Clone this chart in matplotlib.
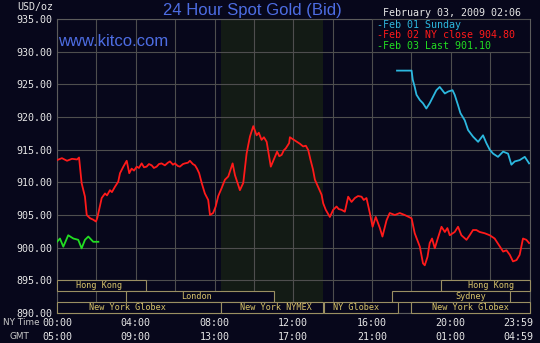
import matplotlib
matplotlib.use('Agg')
import matplotlib.pyplot as plt
import matplotlib.patches as mpatches
import matplotlib.transforms as mtransforms

# --- data (hours since 00:00 NY time, USD/oz) ---
red_t = [0.00, 0.25, 0.51, 0.76, 1.02, 1.12, 1.25, 1.42, 1.51, 1.68, 1.83, 1.98, 2.05, 2.15,
         2.27, 2.44, 2.54, 2.69, 2.79, 2.94, 3.11, 3.20, 3.37, 3.54, 3.67, 3.79, 3.91, 4.05,
         4.16, 4.30, 4.42, 4.55, 4.67, 4.81, 4.92, 5.06, 5.18, 5.31, 5.48, 5.63, 5.74, 5.89,
         5.99, 6.14, 6.24, 6.40, 6.50, 6.65, 6.75, 6.90, 7.01, 7.11, 7.22, 7.35, 7.51, 7.68,
         7.77, 7.93, 8.06, 8.19, 8.36, 8.53, 8.70, 8.92, 9.04, 9.29, 9.46, 9.63, 9.80, 9.97,
         10.14, 10.25, 10.39, 10.51, 10.65, 10.76, 10.86, 11.07, 11.18, 11.29, 11.41, 11.52,
         11.62, 11.79, 11.83, 11.98, 12.17, 12.34, 12.50, 12.64, 12.76, 12.88, 13.00, 13.10,
         13.26, 13.44, 13.52, 13.65, 13.86, 14.03, 14.20, 14.31, 14.45, 14.62, 14.79, 14.96,
         15.13, 15.29, 15.47, 15.58, 15.72, 15.89, 16.03, 16.19, 16.40, 16.53, 16.74, 16.90,
         17.16, 17.41, 17.66, 18.01, 18.17, 18.43, 18.59, 18.68, 18.82, 18.93, 19.05, 19.19,
         19.32, 19.53, 19.70, 19.83, 19.95, 20.20, 20.37, 20.54, 20.80, 20.96, 21.13, 21.30,
         21.47, 21.73, 21.98, 22.23, 22.49, 22.66, 22.83, 23.00, 23.16, 23.34, 23.50, 23.67,
         23.84, 23.98]
red_v = [913.4, 913.7, 913.3, 913.6, 913.5, 913.8, 909.9, 907.8, 905.0, 904.5, 904.3, 904.0, 904.6, 906.0,
         907.6, 908.3, 908.0, 908.8, 908.5, 909.3, 910.1, 911.4, 912.4, 913.3, 911.4, 912.1, 911.8, 912.4,
         912.2, 912.9, 912.3, 912.4, 912.8, 912.6, 912.2, 912.4, 912.8, 912.9, 912.6, 913.0, 913.2, 912.7,
         912.9, 912.5, 912.4, 912.8, 912.9, 913.0, 913.3, 912.8, 912.6, 912.1, 911.4, 909.9, 908.3, 907.3,
         905.0, 905.3, 906.3, 907.9, 909.1, 910.4, 910.9, 912.9, 911.1, 908.8, 909.9, 914.4, 917.0, 918.6,
         917.2, 917.6, 916.5, 916.9, 916.2, 914.2, 912.4, 913.9, 914.7, 914.0, 914.2, 914.9,
         915.2, 916.0, 916.9, 916.6, 916.2, 915.9, 915.5, 915.6, 914.95, 913.4, 912.0, 910.4,
         909.3, 908.1, 906.8, 905.8, 904.7, 905.8, 906.3, 905.9, 905.8, 905.5, 907.8, 907.0,
         907.6, 907.9, 907.8, 907.3, 907.6, 905.3, 903.2, 904.7, 903.0, 901.7, 904.2, 905.3,
         905.0, 905.3, 905.0, 904.5, 902.2, 900.15, 897.6, 897.3, 898.6, 900.7, 901.4, 899.9,
         901.2, 903.2, 902.4, 903.0, 901.9, 902.4, 903.2, 901.9, 901.2, 901.9, 902.7, 902.7,
         902.4, 902.2, 901.9, 901.4, 900.2, 899.4, 899.6, 898.9, 897.9, 898.1, 898.9, 901.4,
         901.2, 900.7]

cyan_t = [17.27, 18.01, 18.07, 18.17, 18.26, 18.43, 18.59, 18.76, 18.93, 19.10, 19.27, 19.44,
          19.70, 19.87, 20.09, 20.20, 20.37, 20.49, 20.71, 20.88, 21.13, 21.39, 21.64, 21.81,
          21.98, 22.15, 22.40, 22.66, 22.91, 23.08, 23.25, 23.50, 23.76, 23.98]
cyan_v = [927.1, 927.1, 925.7, 924.6, 923.4, 922.6, 922.1, 921.3, 922.1, 923.1, 924.1, 924.6,
          923.6, 923.9, 924.1, 923.4, 921.8, 920.6, 919.5, 918.0, 917.0, 916.2, 917.2, 916.0,
          915.0, 914.4, 913.9, 914.7, 914.4, 912.7, 913.2, 913.4, 913.9, 912.9]

green_t = [0.00, 0.15, 0.32, 0.57, 0.83, 1.08, 1.25, 1.42, 1.59, 1.84, 2.10]
green_v = [900.9, 901.4, 900.15, 901.9, 901.4, 901.2, 899.9, 901.2, 901.7, 900.9, 900.9]

tick_hours = [0, 4, 8, 12, 16, 20, 24]
ny_labels = ['00:00', '04:00', '08:00', '12:00', '16:00', '20:00', '23:59']
gmt_labels = ['05:00', '09:00', '13:00', '17:00', '21:00', '01:00', '04:59']

# trading sessions: name, row, start hour, end hour
session_names = ['Hong Kong', 'Hong Kong', 'London', 'Sydney',
                 'New York Globex', 'New York NYMEX', 'NY Globex', 'New York Globex']
session_rows = [0, 0, 1, 1, 2, 2, 2, 2]
session_start = [0.0, 19.5, 3.5, 17.0, 0.0, 8.33, 13.55, 18.0]
session_end = [4.5, 24.0, 11.0, 23.0, 8.33, 13.5, 17.33, 24.0]
label_at = [2.15, 22.05, 7.1, 21.0, 3.6, 11.1, 15.2, 21.0]

legend_labels = ['-Feb 01 Sunday', '-Feb 02 NY close 904.80', '-Feb 03 Last 901.10']

# --- style ---
bg = '#07071b'
grid_c = '#4e4e4e'
red = '#ff1a1a'
cyan = '#2cb8df'
green = '#22dd22'
blue = '#4d6de3'
sess_edge = '#9a8f62'
sess_text = '#d9c46a'
mono = 'DejaVu Sans Mono'

W, H = 540, 343
fig = plt.figure(figsize=(W / 100, H / 100), dpi=100, facecolor=bg)
ax = fig.add_axes([57 / W, 1 - 313 / H, 472.5 / W, 294 / H])
ax.set_facecolor(bg)
ax.set_xlim(0, 24)
ax.set_ylim(890, 935)

def px(x, y):
    return x / W, 1 - y / H

# NYMEX open shading
ax.axvspan(8.33, 13.5, color='#131b15', zorder=0.2, lw=0)

ax.set_xticks(range(0, 25, 2))
ax.set_yticks(range(890, 936, 5))
ax.set_axisbelow(True)
ax.grid(True, color=grid_c, lw=0.8)
ax.tick_params(length=0, labelbottom=False, pad=3)
ax.set_yticklabels(['%.2f' % v for v in range(890, 936, 5)],
                   family=mono, fontsize=7.2, color='#e6e6e6')
for s in ax.spines.values():
    s.set_color('#5c5c5c')
    s.set_linewidth(0.8)

ax.plot(red_t, red_v, color=red, lw=1.3, zorder=3)
ax.plot(cyan_t, cyan_v, color=cyan, lw=1.3, zorder=3)
ax.plot(green_t, green_v, color=green, lw=1.3, zorder=3)

# session boxes along the bottom
row_h = 5 / 3
for name, row, a, b, lx in zip(session_names, session_rows, session_start, session_end, label_at):
    y0 = 895 - (row + 1) * row_h
    ax.add_patch(mpatches.Rectangle((a, y0), b - a, row_h, facecolor=bg,
                                    edgecolor=sess_edge, lw=0.8, zorder=5, clip_on=False))
    ax.text(lx, y0 + row_h / 2, name, family=mono, fontsize=6.1, color=sess_text,
            ha='center', va='center', zorder=6)

# legend box
ax.add_patch(mpatches.Rectangle((16, 930), 8, 5, facecolor=bg, edgecolor=grid_c,
                                lw=0.8, zorder=5))
for i, (lab, c) in enumerate(zip(legend_labels, [cyan, red, green])):
    fig.text(*px(377, 25 + i * 10.4), lab, family=mono, fontsize=7.2, color=c,
             ha='left', va='center', zorder=6)

# time axis labels (two rows)
tr = mtransforms.blended_transform_factory(ax.transData, fig.transFigure)
for h, ny, gmt in zip(tick_hours, ny_labels, gmt_labels):
    if h == 24:
        ha, hx = 'right', 24.2
    else:
        ha, hx = 'center', h
    fig.text(hx, 1 - 322.7 / H, ny, transform=tr, family=mono, fontsize=7.2,
             color='#e6e6e6', ha=ha, va='center')
    fig.text(hx, 1 - 336.7 / H, gmt, transform=tr, family=mono, fontsize=7.2,
             color='#e6e6e6', ha=ha, va='center')
fig.text(*px(3, 322.7), 'NY Time', fontsize=6.4, color='#c8c8c8', ha='left', va='center')
fig.text(*px(10, 336.7), 'GMT', fontsize=6.4, color='#c8c8c8', ha='left', va='center')

# headings
fig.text(*px(252, 10), '24 Hour Spot Gold (Bid)', family='Liberation Sans', fontsize=12,
         color=blue, ha='center', va='center')
fig.text(*px(58, 42), 'www.kitco.com', family='Liberation Sans', fontsize=12,
         color=blue, ha='left', va='center', zorder=6)
fig.text(*px(17, 7.3), 'USD/oz', family=mono, fontsize=7.2, color='#e6e6e6',
         ha='left', va='center')
fig.text(*px(383, 13.3), 'February 03, 2009 02:06', family=mono, fontsize=7.2,
         color='#e6e6e6', ha='left', va='center')

fig.savefig('out.png', dpi=100, facecolor=bg)
